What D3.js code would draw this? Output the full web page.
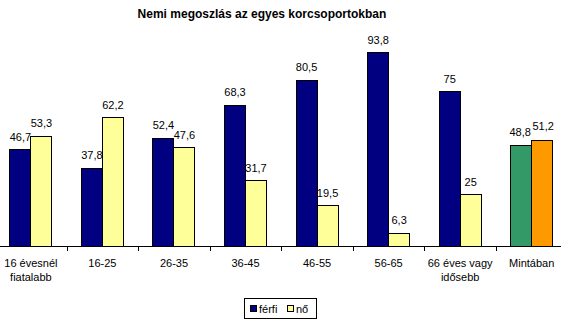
<!DOCTYPE html>
<html><head><meta charset="utf-8">
<script src="https://cdn.jsdelivr.net/npm/d3@7/dist/d3.min.js"></script>
<style>body{margin:0;background:#fff}svg{display:block;font-family:"Liberation Sans",Arial,sans-serif}</style>
</head><body>
<script>
const title = "Nemi megoszlás az egyes korcsoportokban";
const categories = [["16 évesnél","fiatalabb"],["16-25"],["26-35"],["36-45"],["46-55"],["56-65"],["66 éves vagy","idősebb"],["Mintában"]];
const ferfi = [46.7,37.8,52.4,68.3,80.5,93.8,75,48.8];
const no = [53.3,62.2,47.6,31.7,19.5,6.3,25,51.2];
const seriesNames = ["férfi","nő"];
const yTicks = [0,100];

const W=561,H=331;
const svg=d3.select("body").append("svg").attr("width",W).attr("height",H);
const x=d3.scaleBand().domain(d3.range(categories.length)).range([-4.9,567.5]);
const y=d3.scaleLinear().domain(yTicks).range([246,40]);
const colM=i=>i===categories.length-1?"#339966":"#000080";
const colF=i=>i===categories.length-1?"#FF9900":"#FFFF99";
const bw=21;
const fmt=v=>String(v).replace(".",",");

svg.append("text").attr("x",262).attr("y",18).attr("text-anchor","middle")
  .attr("font-weight","bold").attr("font-size",12).text(title);

const g=svg.append("g");
categories.forEach((c,i)=>{
  const cx=x(i)+x.bandwidth()/2;
  g.append("rect").attr("x",cx-bw).attr("y",y(ferfi[i])).attr("width",bw).attr("height",y(0)-y(ferfi[i]))
    .attr("fill",colM(i)).attr("stroke","#000").attr("stroke-width",1).attr("shape-rendering","crispEdges");
  g.append("rect").attr("x",cx).attr("y",y(no[i])).attr("width",bw).attr("height",y(0)-y(no[i]))
    .attr("fill",colF(i)).attr("stroke","#000").attr("stroke-width",1).attr("shape-rendering","crispEdges");
  const last=i===categories.length-1;
  g.append("text").attr("x",cx-bw/2+(last?-1:0)).attr("y",y(ferfi[i])-9).attr("text-anchor","middle").attr("font-size",11).text(fmt(ferfi[i]));
  g.append("text").attr("x",cx+bw/2+(last?1:0)).attr("y",y(no[i])-9-(last?2:0)).attr("text-anchor","middle").attr("font-size",11).text(fmt(no[i]));
  c.forEach((line,j)=>{
    g.append("text").attr("x",cx).attr("y",267+j*14).attr("text-anchor","middle").attr("font-size",11).text(line);
  });
});
// axis
svg.append("line").attr("x1",0).attr("x2",W).attr("y1",246.5).attr("y2",246.5).attr("stroke","#000");
d3.range(1,categories.length).forEach(i=>{
  const tx=Math.round(x(i))+0.5;
  svg.append("line").attr("x1",tx).attr("x2",tx).attr("y1",246).attr("y2",251).attr("stroke","#000");
});
// legend
const lg=svg.append("g");
lg.append("rect").attr("x",244.5).attr("y",298.5).attr("width",72).attr("height",20).attr("fill","#fff").attr("stroke","#000");
const items=[[250,"#000080",seriesNames[0],259],[287,"#FFFF99",seriesNames[1],296]];
items.forEach(([sx,c,t,tx])=>{
  lg.append("rect").attr("x",sx+0.5).attr("y",305.5).attr("width",6).attr("height",6).attr("fill",c).attr("stroke","#000");
  lg.append("text").attr("x",tx).attr("y",312.5).attr("font-size",11).text(t);
});
</script>
</body></html>
